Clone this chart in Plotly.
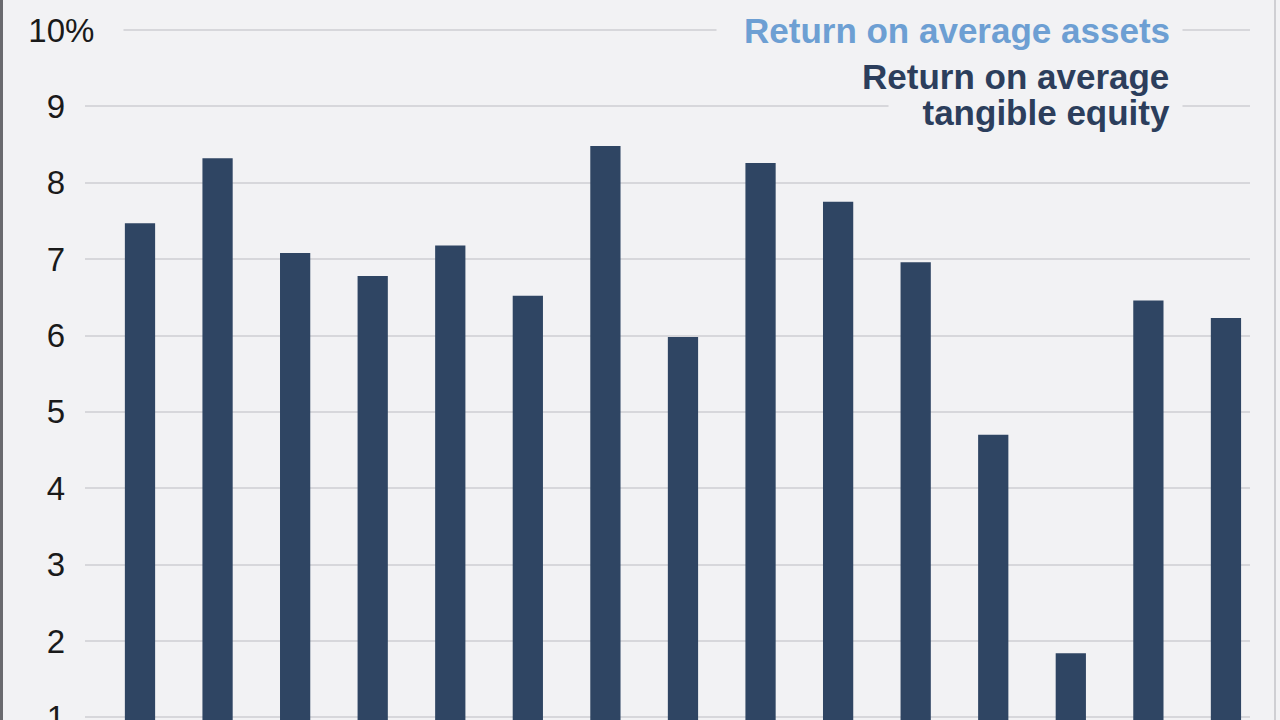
import plotly.graph_objects as go

# ---- data ----
periods = [f"P{i}" for i in range(1, 16)]
rotce = [7.47, 8.32, 7.08, 6.78, 7.18, 6.52, 8.48, 5.98, 8.26, 7.75, 6.96, 4.70, 1.84, 6.46, 6.23]
y_ticks = [1, 2, 3, 4, 5, 6, 7, 8, 9, 10]
y_ticktext = ["1", "2", "3", "4", "5", "6", "7", "8", "9", "10"]
legend_assets = "Return on average assets"
legend_equity_1 = "Return on average"
legend_equity_2 = "tangible equity"

# ---- style ----
BG = "#f2f2f4"
BAR = "#2f4563"
LIGHT_BLUE = "#6d9fd3"
DARK_TEXT = "#2c3e5c"
GRID = "#d7d7db"
W, H = 1280, 720
L, R = 85, 1250
PW = R - L


def px(xp):
    return (xp - L) / PW


fig = go.Figure()
fig.add_trace(go.Bar(x=periods, y=rotce, marker_color=BAR, width=0.39,
                     marker_line_width=0, hoverinfo="skip"))

fig.update_layout(
    width=W, height=H,
    margin=dict(l=L, r=W - R, t=0, b=0, autoexpand=False),
    paper_bgcolor=BG, plot_bgcolor=BG,
    showlegend=False,
    font=dict(family="Liberation Sans, Arial, sans-serif", color="#1a1a1a"),
    xaxis=dict(type="category", range=[-0.709, 14.31], showticklabels=False,
               showgrid=False, zeroline=False, showline=False, ticks="",
               automargin=False),
    yaxis=dict(range=[0.966, 10.393], tickvals=y_ticks, ticktext=y_ticktext,
               showgrid=True, gridcolor=GRID, gridwidth=2, zeroline=False,
               showline=False, ticks="", ticklabelstandoff=19,
               ticklabeloverflow="allow", automargin=False,
               tickfont=dict(size=33, color="#1a1a1a"), layer="below traces"),
)

# percent sign hanging after the "10" label
fig.add_annotation(text="%", xref="paper", yref="y", x=px(64), y=10,
                   xanchor="left", yanchor="middle", align="left",
                   showarrow=False, bgcolor=BG, borderpad=0, width=58,
                   font=dict(size=33, color="#1a1a1a"))

# legend texts (order matters: boxes with background first)
fig.add_annotation(text=f"<b>{legend_assets}</b>", xref="paper", yref="y",
                   x=px(1183), y=10, xanchor="right", yanchor="middle",
                   align="right", showarrow=False, bgcolor=BG, borderpad=12,
                   width=441, font=dict(size=35, color=LIGHT_BLUE))
fig.add_annotation(text=f"<b>{legend_equity_2}</b>", xref="paper", yref="y",
                   x=px(1183), y=8.925, xanchor="right", yanchor="middle",
                   align="right", showarrow=False, bgcolor=BG, borderpad=12,
                   width=269, font=dict(size=35, color=DARK_TEXT))
fig.add_annotation(text=f"<b>{legend_equity_1}</b>", xref="paper", yref="y",
                   x=px(1171), y=9.385, xanchor="right", yanchor="middle",
                   align="right", showarrow=False,
                   font=dict(size=35, color=DARK_TEXT))

# frame edges
fig.add_shape(type="line", xref="paper", yref="paper", x0=px(1.5), x1=px(1.5),
              y0=0, y1=1, line=dict(color="#6a6a6e", width=3))
fig.add_shape(type="line", xref="paper", yref="paper", x0=px(1275), x1=px(1275),
              y0=0, y1=1, line=dict(color="#cfcfd3", width=2))

fig.write_html("out.html", config={"displayModeBar": False},
               post_script="document.body.style.margin='0px';"
                           "document.body.style.overflow='hidden';")
